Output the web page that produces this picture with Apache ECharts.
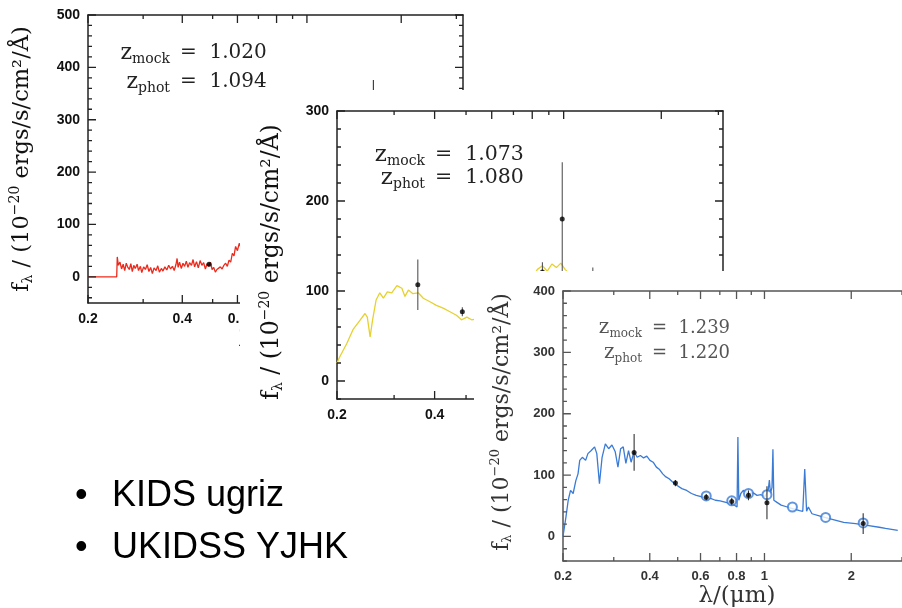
<!DOCTYPE html>
<html>
<head>
<meta charset="utf-8">
<script src="https://cdn.jsdelivr.net/npm/echarts@6/dist/echarts.min.js"></script>
<style>
  html, body { margin: 0; padding: 0; background: #fff; }
  #c { width: 902px; height: 608px; }
</style>
</head>
<body>
<div id="c"></div>
<script>
// ---- wavelength tick marks (microns) ----
const xMajorTicks = [0.2, 0.4, 0.6, 0.8, 1, 2];
const xMinorTicks = [0.3, 0.5, 0.7, 0.9, 3];

// ---- flux tick marks per panel ----
const yTicksA = [0, 100, 200, 300, 400, 500];
const yTicksB = [0, 100, 200, 300];
const yTicksC = [0, 100, 200, 300, 400];

// ---- panel A: z_mock 1.020 / z_phot 1.094 ----
const redSpectrum = [
  [0.200, 0], [0.247, 0], [0.248, 38], [0.250, 22], [0.253, 28], [0.256, 15], [0.259, 24],
  [0.262, 12], [0.265, 26], [0.268, 18], [0.271, 14], [0.274, 25], [0.277, 10], [0.280, 22],
  [0.283, 16], [0.287, 24], [0.290, 12], [0.294, 20], [0.297, 8], [0.301, 19], [0.305, 14],
  [0.309, 23], [0.313, 10], [0.317, 18], [0.321, 6], [0.325, 17], [0.330, 12], [0.334, 21],
  [0.338, 9], [0.343, 16], [0.347, 11], [0.352, 19], [0.357, 13], [0.362, 22], [0.367, 15],
  [0.372, 20], [0.377, 12], [0.382, 24], [0.385, 35], [0.388, 18], [0.392, 28], [0.397, 16],
  [0.402, 26], [0.407, 20], [0.412, 30], [0.417, 18], [0.422, 27], [0.428, 22], [0.433, 33],
  [0.438, 19], [0.444, 29], [0.450, 17], [0.456, 31], [0.462, 22], [0.468, 27], [0.474, 15],
  [0.480, 25], [0.486, 20], [0.492, 28], [0.498, 14], [0.504, 18], [0.510, 9], [0.516, 14],
  [0.522, 11], [0.529, 19], [0.536, 15], [0.543, 22], [0.550, 26], [0.557, 20], [0.564, 32],
  [0.571, 28], [0.578, 45], [0.585, 40], [0.592, 58], [0.600, 50], [0.608, 64], [0.616, 55],
  [0.625, 62], [0.640, 58], [0.660, 66]
];
// [wavelength, flux, error]
const redPhot = [[0.487, 24, 3], [1.63, 150, 226]];

// ---- panel B: z_mock 1.073 / z_phot 1.080 ----
const yellowSpectrum = [
  [0.200, 20], [0.204, 27], [0.2146, 42], [0.224, 57], [0.236, 68], [0.244, 75], [0.248, 71],
  [0.253, 49], [0.2575, 68], [0.264, 90], [0.271, 98], [0.278, 92], [0.286, 99], [0.295, 98],
  [0.306, 106], [0.317, 103], [0.324, 94], [0.332, 101], [0.343, 97], [0.356, 98], [0.369, 92],
  [0.387, 88], [0.405, 84], [0.425, 81], [0.446, 77], [0.467, 73], [0.484, 68], [0.503, 71],
  [0.520, 68], [0.560, 70], [0.620, 74], [0.680, 82], [0.740, 95], [0.800, 115], [0.830, 124],
  [0.860, 128], [0.890, 122], [0.920, 130], [0.950, 126], [0.980, 131], [1.010, 124],
  [1.050, 118], [1.100, 110], [1.200, 100], [1.400, 85], [1.700, 68], [2.200, 52], [3.000, 38]
];
const yellowPhot = [[0.355, 107, 28], [0.487, 77, 5], [0.86, 121, 11], [0.99, 180, 63], [1.23, 112, 14]];

// ---- panel C: z_mock 1.239 / z_phot 1.220 ----
const blueSpectrum = [
  [0.200, 0], [0.2048, 32], [0.2085, 59], [0.2124, 75], [0.2169, 70], [0.2216, 91], [0.2255, 102],
  [0.2286, 124], [0.2334, 129], [0.2396, 124], [0.244, 135], [0.2506, 140], [0.2574, 146],
  [0.262, 135], [0.2676, 86], [0.2733, 129], [0.2805, 151], [0.288, 143], [0.2957, 149],
  [0.3036, 138], [0.3102, 113], [0.3169, 143], [0.3236, 146], [0.3305, 119], [0.3376, 140],
  [0.3446, 121], [0.3527, 138], [0.3618, 129], [0.3711, 132], [0.3807, 128], [0.3906, 131],
  [0.4006, 124], [0.411, 121], [0.4216, 113], [0.4325, 109], [0.4436, 102], [0.4551, 97],
  [0.4669, 94], [0.479, 89], [0.4977, 83], [0.517, 78], [0.5372, 75], [0.5581, 70], [0.5798, 67],
  [0.6024, 65], [0.6258, 63], [0.6502, 62], [0.6755, 59], [0.7018, 58], [0.7291, 56],
  [0.7575, 54], [0.7869, 51], [0.8033, 48], [0.8087, 162], [0.8145, 59], [0.8278, 70],
  [0.8444, 75], [0.8658, 72], [0.8876, 70], [0.9146, 71], [0.9421, 67], [0.9728, 68],
  [1.005, 65], [1.030, 75], [1.040, 92], [1.049, 70], [1.062, 80], [1.0698, 142], [1.0777, 59],
  [1.1015, 56], [1.1423, 51], [1.200, 48], [1.260, 45], [1.3236, 42], [1.358, 41], [1.3793, 110],
  [1.400, 41], [1.420, 48], [1.4615, 37], [1.560, 33], [1.718, 28], [1.883, 23], [2.070, 21],
  [2.270, 18], [2.500, 15], [2.630, 13], [2.900, 10]
];
const bluePhot = [[0.353, 137, 30], [0.491, 87, 5], [0.628, 64, 5], [0.77, 57, 6], [0.88, 67, 8], [1.02, 55, 27], [2.2, 21, 17]];
const blueModel = [[0.628, 66], [0.77, 58], [0.88, 70], [1.02, 68], [1.25, 48], [1.63, 31], [2.2, 22]];

const bulletLines = ['KIDS ugriz', 'UKIDSS YJHK'];

// ---------------------------------------------------------------
const L = Math.log10;
const logPairs = arr => arr.map(p => [L(p[0]), ...p.slice(1)]);
const fmtLambda = v => String(Math.round(Math.pow(10, v) * 10) / 10);

function minorValues(min, max, step, majors) {
  const out = [];
  for (let v = Math.ceil(min / step) * step; v <= max; v += step) {
    if (majors.indexOf(v) < 0) out.push(v);
  }
  return out;
}

const panels = [
  { grid: { left: 88, top: 15, width: 375, height: 288 }, xMax: 3.15, yMin: -50, yMax: 500,
    yTicks: yTicksA, axisColor: '#222', labelColor: '#111', labelSize: 14, z: 1, right: true,
    spectrum: redSpectrum, phot: redPhot, model: [], lineColor: '#ec2a1c', errColor: '#333' },
  { grid: { left: 337, top: 111, width: 386, height: 288 }, xMax: 3.1, yMin: -20, yMax: 300,
    yTicks: yTicksB, axisColor: '#222', labelColor: '#111', labelSize: 14, z: 6, right: true,
    spectrum: yellowSpectrum, phot: yellowPhot, model: [], lineColor: '#e6d12e', errColor: '#555' },
  { grid: { left: 563, top: 291, width: 344, height: 270 }, xMax: 3.0, yMin: -40, yMax: 400,
    yTicks: yTicksC, axisColor: '#555', labelColor: '#333', labelSize: 13, z: 11, right: false,
    spectrum: blueSpectrum, phot: bluePhot, model: blueModel, lineColor: '#3a7bd6', errColor: '#333' }
];

const grids = [], xAxes = [], yAxes = [], series = [];

panels.forEach((p, g) => {
  grids.push(Object.assign({ containLabel: false }, p.grid));
  const lineStyle = { color: p.axisColor, width: 1.5 };
  const xMin = L(0.2), xMax = L(p.xMax);
  const xBase = { type: 'value', gridIndex: g, z: p.z, min: xMin, max: xMax, splitLine: { show: false } };
  const yBase = { type: 'value', gridIndex: g, z: p.z, min: p.yMin, max: p.yMax, splitLine: { show: false } };
  const font = { fontFamily: 'Liberation Sans', fontWeight: 'bold', fontSize: p.labelSize, color: p.labelColor };

  const xi = xAxes.length;
  xAxes.push(Object.assign({}, xBase, { position: 'bottom',
    axisLine: { show: true, onZero: false, lineStyle },
    axisTick: { show: false },
    axisLabel: Object.assign({ show: true, margin: 9, customValues: xMajorTicks.map(L), formatter: fmtLambda }, font) }));
  xAxes.push(Object.assign({}, xBase, { position: 'top',
    axisLine: { show: true, onZero: false, lineStyle },
    axisTick: { show: false }, axisLabel: { show: false } }));

  const yi = yAxes.length;
  yAxes.push(Object.assign({}, yBase, { position: 'left',
    axisLine: { show: true, onZero: false, lineStyle },
    axisTick: { show: false },
    axisLabel: Object.assign({ show: true, margin: 8, customValues: p.yTicks }, font) }));
  if (p.right) {
    yAxes.push(Object.assign({}, yBase, { position: 'right',
      axisLine: { show: true, onZero: false, lineStyle },
      axisTick: { show: false }, axisLabel: { show: false } }));
  }

  // Inward frame ticks as short segments in data space, separated by gaps.
  // Tick length is given in pixels and turned into data units for this grid.
  const dyPerPx = (p.yMax - p.yMin) / p.grid.height;
  const dxPerPx = (xMax - xMin) / p.grid.width;
  const gap = ['-', '-'];
  const tickPath = [];
  const addX = (v, len) => {
    tickPath.push([L(v), p.yMin], [L(v), p.yMin + len * dyPerPx], gap);
    tickPath.push([L(v), p.yMax], [L(v), p.yMax - len * dyPerPx], gap);
  };
  const addY = (v, len) => {
    tickPath.push([xMin, v], [xMin + len * dxPerPx, v], gap);
    if (p.right) tickPath.push([xMax, v], [xMax - len * dxPerPx, v], gap);
  };
  xMajorTicks.forEach(v => addX(v, 8));
  xMinorTicks.filter(v => v <= p.xMax).forEach(v => addX(v, 4));
  p.yTicks.forEach(v => addY(v, 8));
  minorValues(p.yMin, p.yMax, 20, p.yTicks).forEach(v => addY(v, 4));

  series.push({
    type: 'line', xAxisIndex: xi, yAxisIndex: yi, z: p.z + 2, clip: false,
    data: tickPath, showSymbol: false, symbol: 'none', connectNulls: false, silent: true,
    lineStyle: { color: p.axisColor, width: 1.3 }
  });

  series.push({
    type: 'line', xAxisIndex: xi, yAxisIndex: yi, z: p.z + 1, clip: true,
    data: logPairs(p.spectrum), showSymbol: false, silent: true,
    lineStyle: { color: p.lineColor, width: 1.3 }
  });
  if (p.model.length) {
    series.push({
      type: 'scatter', xAxisIndex: xi, yAxisIndex: yi, z: p.z + 1, clip: true,
      data: logPairs(p.model), symbol: 'emptyCircle', symbolSize: 9,
      itemStyle: { color: p.lineColor, borderColor: p.lineColor, borderWidth: 1.2 }
    });
  }
  series.push({
    type: 'custom', xAxisIndex: xi, yAxisIndex: yi, z: p.z + 2, clip: true,
    data: logPairs(p.phot), encode: { x: 0, y: 1 },
    renderItem: (params, api) => {
      const x = api.value(0), y = api.value(1), e = api.value(2);
      const a = api.coord([x, y - e]), b = api.coord([x, y + e]);
      return { type: 'line', shape: { x1: a[0], y1: a[1], x2: b[0], y2: b[1] },
               style: { stroke: p.errColor, lineWidth: 1.1 } };
    }
  });
  series.push({
    type: 'scatter', xAxisIndex: xi, yAxisIndex: yi, z: p.z + 3, clip: true,
    data: logPairs(p.phot).map(d => [d[0], d[1]]), symbol: 'circle', symbolSize: 5,
    itemStyle: { color: '#000' }
  });
});

// ---- titles and annotations ----
const SERIF = 'DejaVu Serif';
function yTitle(x, y, size, color, z) {
  return {
    type: 'text', x, y, rotation: Math.PI / 2, z,
    style: {
      text: '{a|f}{s|λ}{a| / (10}{p|−20}{a| ergs/s/cm²/Å)}',
      align: 'center', verticalAlign: 'middle',
      rich: {
        a: { fontFamily: SERIF, fontSize: size, fill: color },
        s: { fontFamily: SERIF, fontSize: Math.round(size * 0.6), fill: color, padding: [Math.round(size * 0.55), 0, 0, 0] },
        p: { fontFamily: SERIF, fontSize: Math.round(size * 0.6), fill: color, padding: [0, 0, Math.round(size * 0.6), 0] }
      }
    }
  };
}
function xTitle(x, y, size, color, z) {
  return { type: 'text', x, y, z,
    style: { text: 'λ/(μm)', align: 'center', verticalAlign: 'middle', fontFamily: SERIF, fontSize: size, fill: color } };
}
function zLine(xEq, y, sub, val, size, color, z) {
  return [
    { type: 'text', x: xEq - 10, y, z,
      style: { text: '{a|z}{s|' + sub + '}', align: 'right', verticalAlign: 'middle',
        rich: {
          a: { fontFamily: SERIF, fontSize: Math.round(size * 1.1), fill: color },
          s: { fontFamily: SERIF, fontSize: Math.round(size * 0.68), fill: color, padding: [Math.round(size * 0.6), 0, 0, 0] }
        } } },
    { type: 'text', x: xEq, y, z,
      style: { text: '=  ' + val, align: 'left', verticalAlign: 'middle', fontFamily: SERIF, fontSize: size, fill: color } }
  ];
}

const graphics = [
  // panel A texts
  yTitle(22, 159, 22.5, '#111', 3),
  xTitle(275, 340, 22, '#111', 3),
  ...zLine(180, 53, 'mock', '1.020', 20, '#222', 3),
  ...zLine(180, 82, 'phot', '1.094', 20, '#222', 3),
  // panel B sheet
  { type: 'rect', z: 5, shape: { x: 240, y: 90, width: 500, height: 340 }, style: { fill: '#fff' } },
  yTitle(272, 262, 23.5, '#111', 8),
  ...zLine(435, 155, 'mock', '1.073', 20.5, '#222', 8),
  ...zLine(435, 178, 'phot', '1.080', 20.5, '#222', 8),
  // panel C sheet
  { type: 'rect', z: 10, shape: { x: 474, y: 271, width: 440, height: 340 }, style: { fill: '#fff' } },
  yTitle(502, 422, 22, '#333', 13),
  xTitle(737, 596, 23, '#333', 13),
  ...zLine(652, 328, 'mock', '1.239', 18, '#555', 13),
  ...zLine(652, 353, 'phot', '1.220', 18, '#555', 13)
];
bulletLines.forEach((t, i) => {
  const y = 496 + i * 52;
  graphics.push({ type: 'text', x: 75, y, z: 20,
    style: { text: '•', align: 'left', verticalAlign: 'middle', fontFamily: 'Liberation Sans', fontSize: 36, fill: '#000' } });
  graphics.push({ type: 'text', x: 112, y, z: 20,
    style: { text: t, align: 'left', verticalAlign: 'middle', fontFamily: 'Liberation Sans', fontSize: 36, fill: '#000' } });
});

const chart = echarts.init(document.getElementById('c'), null, { renderer: 'canvas' });
chart.setOption({
  animation: false,
  backgroundColor: '#fff',
  grid: grids,
  xAxis: xAxes,
  yAxis: yAxes,
  series,
  graphic: { elements: graphics }
});
</script>
</body>
</html>
